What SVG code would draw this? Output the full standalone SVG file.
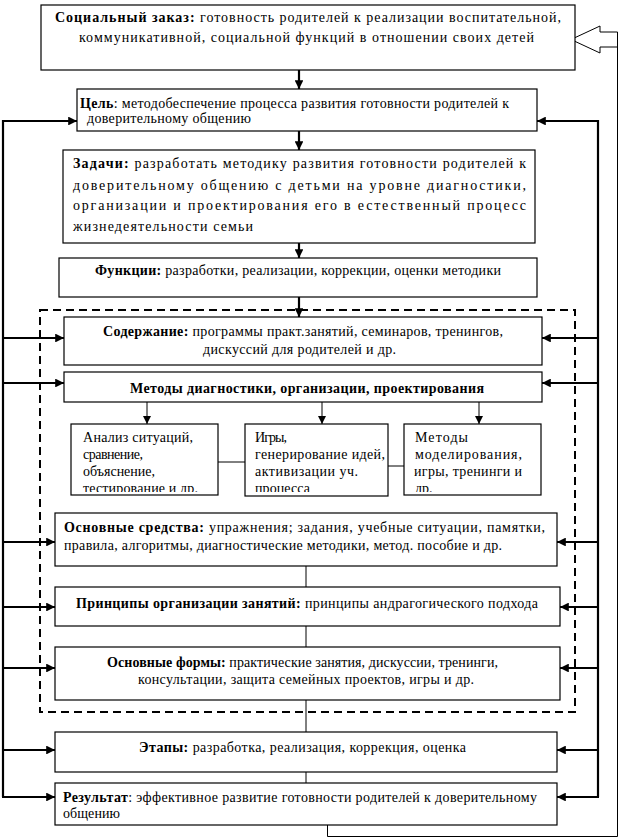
<svg xmlns="http://www.w3.org/2000/svg" width="619" height="839" viewBox="0 0 619 839" font-family="'Liberation Serif', 'DejaVu Serif', serif">
<style>
.box{fill:#fff;stroke:#000;stroke-width:1.2}
.t{font-family:'Liberation Serif','DejaVu Serif',serif;font-size:14px;fill:#000}
.b{font-weight:bold}
.thick{fill:none;stroke:#000;stroke-width:2.2}
.thin{fill:none;stroke:#000;stroke-width:1}
.dash{fill:none;stroke:#000;stroke-width:2;stroke-dasharray:8,5}
</style>
<defs>
<marker id="ah" viewBox="0 0 10 10" refX="10" refY="5" markerWidth="4" markerHeight="4" orient="auto" markerUnits="strokeWidth">
<path d="M0,0 L10,5 L0,10 z" fill="#000"/>
</marker>
<marker id="ahs" viewBox="0 0 10 10" refX="10" refY="5" markerWidth="8" markerHeight="8" orient="auto" markerUnits="strokeWidth">
<path d="M0,0 L10,5 L0,10 z" fill="#000"/>
</marker>
<clipPath id="c1"><rect x="71" y="424" width="147" height="68"/></clipPath>
<clipPath id="c2"><rect x="245" y="424" width="143" height="68"/></clipPath>
<clipPath id="c3"><rect x="404" y="424" width="137" height="68"/></clipPath>
</defs>

<rect class="dash" x="40" y="310" width="535" height="402"/>

<g id="connectors">
<line class="thick" x1="299" y1="70" x2="299" y2="89" marker-end="url(#ah)"/>
<line class="thick" x1="299" y1="131" x2="299" y2="150" marker-end="url(#ah)"/>
<line class="thick" x1="299" y1="243" x2="299" y2="258" marker-end="url(#ah)"/>
<line class="thick" x1="299" y1="297" x2="299" y2="317" marker-end="url(#ah)"/>
<line class="thin" x1="147" y1="402" x2="147" y2="424" marker-end="url(#ahs)"/>
<line class="thin" x1="322" y1="402" x2="322" y2="424" marker-end="url(#ahs)"/>
<line class="thin" x1="479" y1="402" x2="479" y2="424" marker-end="url(#ahs)"/>
<line class="thin" x1="218" y1="462" x2="245" y2="462"/>
<line class="thin" x1="388" y1="466" x2="404" y2="466"/>
<line class="thin" x1="306" y1="566" x2="306" y2="587"/>
<line class="thin" x1="306" y1="626" x2="306" y2="647"/>
<line class="thin" x1="306" y1="700" x2="306" y2="732"/>
<line class="thin" x1="306" y1="772" x2="306" y2="783"/>
<polyline class="thick" points="3,797 3,121 77,121" marker-end="url(#ah)"/>
<line class="thick" x1="3" y1="338" x2="64" y2="338" marker-end="url(#ah)"/>
<line class="thick" x1="3" y1="383" x2="64" y2="383" marker-end="url(#ah)"/>
<line class="thick" x1="3" y1="542" x2="55" y2="542" marker-end="url(#ah)"/>
<line class="thick" x1="3" y1="607" x2="55" y2="607" marker-end="url(#ah)"/>
<line class="thick" x1="3" y1="668" x2="55" y2="668" marker-end="url(#ah)"/>
<line class="thick" x1="3" y1="750" x2="55" y2="750" marker-end="url(#ah)"/>
<line class="thick" x1="2" y1="797" x2="55" y2="797" marker-end="url(#ah)"/>
<polyline class="thick" points="598,797 598,121 537,121" marker-end="url(#ah)"/>
<line class="thick" x1="598" y1="338" x2="542" y2="338" marker-end="url(#ah)"/>
<line class="thick" x1="598" y1="383" x2="542" y2="383" marker-end="url(#ah)"/>
<line class="thick" x1="598" y1="542" x2="557" y2="542" marker-end="url(#ah)"/>
<line class="thick" x1="598" y1="607" x2="560" y2="607" marker-end="url(#ah)"/>
<line class="thick" x1="598" y1="668" x2="560" y2="668" marker-end="url(#ah)"/>
<line class="thick" x1="598" y1="750" x2="557" y2="750" marker-end="url(#ah)"/>
<line class="thick" x1="599" y1="797" x2="557" y2="797" marker-end="url(#ah)"/>
<polyline class="thin" points="327.5,825 327.5,836.5 617.5,836.5 617.5,32"/>
<polygon points="571,39.5 600,26 600,32 617.5,32 617.5,47 600,47 600,53" fill="#fff" stroke="#000" stroke-width="1"/>
</g>

<g id="n-zakaz">
<rect class="box" x="41" y="5" width="534" height="65"/>
<text class="t" x="55" y="22" textLength="506"><tspan class="b">Социальный заказ:</tspan> готовность родителей к реализации воспитательной,</text>
<text class="t" x="79" y="42" textLength="455">коммуникативной, социальной функций в отношении своих детей</text>
</g>

<g id="n-cel">
<rect class="box" x="77" y="89" width="460" height="42"/>
<text class="t" x="80" y="108" textLength="429"><tspan class="b">Цель</tspan>: методобеспечение процесса развития готовности родителей к</text>
<text class="t" x="87" y="123" textLength="164">доверительному общению</text>
</g>

<g id="n-zadachi">
<rect class="box" x="63" y="150" width="472" height="93"/>
<text class="t" x="73" y="168" textLength="453"><tspan class="b">Задачи:</tspan> разработать методику развития готовности родителей к</text>
<text class="t" x="73" y="190" textLength="453">доверительному общению с детьми на уровне диагностики,</text>
<text class="t" x="73" y="210" textLength="453">организации и проектирования его в естественный процесс</text>
<text class="t" x="73" y="231" textLength="180">жизнедеятельности семьи</text>
</g>

<g id="n-funkcii">
<rect class="box" x="59" y="258" width="478" height="39"/>
<text class="t" x="95" y="275" textLength="406"><tspan class="b">Функции:</tspan> разработки, реализации, коррекции, оценки методики</text>
</g>

<g id="n-soderzhanie">
<rect class="box" x="64" y="317" width="478" height="48"/>
<text class="t" x="103" y="336" textLength="400"><tspan class="b">Содержание:</tspan> программы практ.занятий, семинаров, тренингов,</text>
<text class="t" x="203" y="354" textLength="193">дискуссий для родителей и др.</text>
</g>

<g id="n-metody">
<rect class="box" x="64" y="372" width="478" height="30"/>
<text class="t b" x="130" y="393" textLength="354">Методы диагностики, организации, проектирования</text>
</g>

<g id="n-m1">
<rect class="box" x="71" y="424" width="147" height="71"/>
<g clip-path="url(#c1)">
<text class="t" x="83" y="442" textLength="110">Анализ ситуаций,</text>
<text class="t" x="83" y="459" textLength="60">сравнение,</text>
<text class="t" x="83" y="476" textLength="72">объяснение,</text>
<text class="t" x="83" y="493" textLength="115">тестирование и др.</text>
</g>
</g>

<g id="n-m2">
<rect class="box" x="245" y="424" width="143" height="72"/>
<g clip-path="url(#c2)">
<text class="t" x="255" y="442" textLength="32">Игры,</text>
<text class="t" x="255" y="459" textLength="130">генерирование идей,</text>
<text class="t" x="255" y="476" textLength="103">активизации уч.</text>
<text class="t" x="255" y="493" textLength="55">процесса</text>
</g>
</g>

<g id="n-m3">
<rect class="box" x="404" y="424" width="137" height="71"/>
<g clip-path="url(#c3)">
<text class="t" x="415" y="442" textLength="53">Методы</text>
<text class="t" x="415" y="459" textLength="107">моделирования,</text>
<text class="t" x="414" y="476" textLength="108">игры, тренинги и</text>
<text class="t" x="415" y="493">др.</text>
</g>
</g>

<g id="n-sredstva">
<rect class="box" x="55" y="513" width="502" height="53"/>
<text class="t" x="64" y="532" textLength="481"><tspan class="b">Основные средства:</tspan> упражнения; задания, учебные ситуации, памятки,</text>
<text class="t" x="64" y="550" textLength="438">правила, алгоритмы, диагностические методики, метод. пособие и др.</text>
</g>

<g id="n-principy">
<rect class="box" x="55" y="587" width="505" height="39"/>
<text class="t" x="76" y="608" textLength="462"><tspan class="b">Принципы организации занятий:</tspan> принципы андрагогического подхода</text>
</g>

<g id="n-formy">
<rect class="box" x="55" y="647" width="505" height="53"/>
<text class="t" x="107" y="667" textLength="391"><tspan class="b">Основные формы:</tspan> практические занятия, дискуссии, тренинги,</text>
<text class="t" x="138" y="684" textLength="336">консультации, защита семейных проектов, игры и др.</text>
</g>

<g id="n-etapy">
<rect class="box" x="55" y="732" width="502" height="40"/>
<text class="t" x="139" y="752" textLength="327"><tspan class="b">Этапы:</tspan> разработка, реализация, коррекция, оценка</text>
</g>

<g id="n-rezultat">
<rect class="box" x="55" y="783" width="502" height="42"/>
<text class="t" x="63" y="802" textLength="474"><tspan class="b">Результат</tspan>: эффективное развитие готовности родителей к доверительному</text>
<text class="t" x="63" y="818" textLength="57">общению</text>
</g>
</svg>
